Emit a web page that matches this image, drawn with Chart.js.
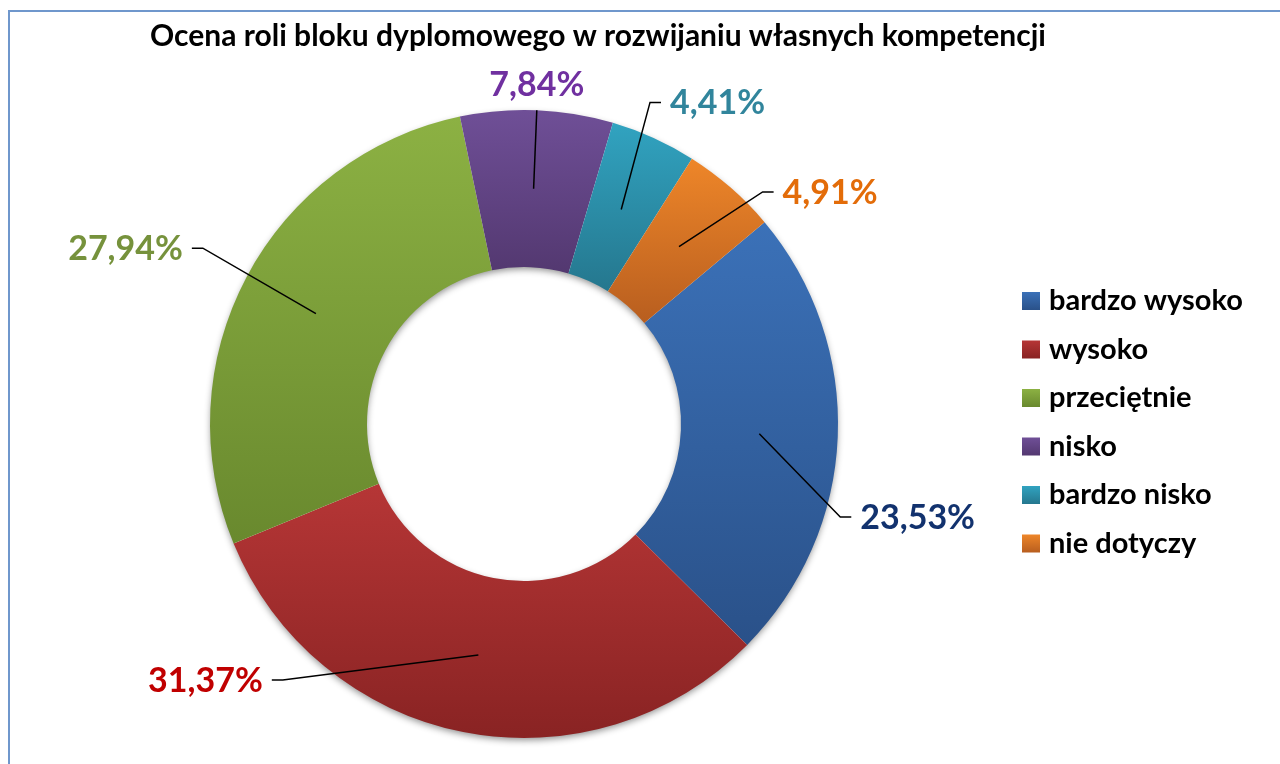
<!DOCTYPE html>
<html lang="pl">
<head>
<meta charset="utf-8">
<title>Ocena roli bloku dyplomowego</title>
<script src="https://cdn.jsdelivr.net/npm/chart.js@4.4.1/dist/chart.umd.min.js"></script>
<style>
  html, body { margin: 0; padding: 0; background: #fff; }
  canvas { display: block; }
</style>
</head>
<body>
<canvas id="donut" width="1280" height="764"></canvas>
<script>
// dane wykresu
const chartTitle = "Ocena roli bloku dyplomowego w rozwijaniu własnych kompetencji";
const categories = ["bardzo wysoko", "wysoko", "przeciętnie", "nisko", "bardzo nisko", "nie dotyczy"];
const percentValues = [23.53, 31.37, 27.94, 7.84, 4.41, 4.91];

// kolory (gradient góra -> dół) i kolory etykiet
const colorsTop = ["#3B71B8", "#B63636", "#8CB143", "#6F4F97", "#31A3C0", "#EE8629"];
const colorsBottom = ["#2A5189", "#892323", "#69892E", "#533870", "#25778E", "#B85E1F"];
const labelColors = ["#12326E", "#C00000", "#76923C", "#7030A0", "#31859C", "#E36C09"];

const FONT = "Lato, 'Open Sans', sans-serif";

// gdzie ma być załamanie linii odniesienia (kąt od góry zgodnie z zegarem, promień względem R)
const labelPlacement = [
  { deg: 106.4, r: 1.05, side: "right" },
  { deg: 223.3, r: 1.12, side: "left" },
  { deg: 298.7, r: 1.166, side: "left" },
  { deg: null, r: 1.0, side: "top" },
  { deg: 21.4, r: 1.10, side: "right" },
  { deg: 45.8, r: 1.06, side: "right" },
];

function formatPct(v) {
  return v.toFixed(2).replace(".", ",") + "%";
}

function sliceBounds(arc) {
  let minY = Infinity, maxY = -Infinity;
  const steps = 40;
  for (let k = 0; k <= steps; k++) {
    const a = arc.startAngle + (arc.endAngle - arc.startAngle) * k / steps;
    [arc.innerRadius, arc.outerRadius].forEach((r) => {
      const y = arc.y + r * Math.sin(a);
      minY = Math.min(minY, y);
      maxY = Math.max(maxY, y);
    });
  }
  return [minY, maxY];
}

const decor = {
  id: "decor",
  beforeDraw(chart) {
    const ctx = chart.ctx;
    ctx.save();
    // ramka
    ctx.strokeStyle = "#6F97CC";
    ctx.lineWidth = 2;
    ctx.beginPath();
    ctx.moveTo(9, chart.height);
    ctx.lineTo(9, 11);
    ctx.lineTo(chart.width, 11);
    ctx.stroke();
    // tytuł
    ctx.fillStyle = "#000";
    ctx.font = "bold 30px " + FONT;
    ctx.textAlign = "center";
    ctx.textBaseline = "alphabetic";
    ctx.fillText(chartTitle, 598, 46);
    ctx.restore();
  },
  beforeDatasetsDraw(chart) {
    const ctx = chart.ctx;
    const meta = chart.getDatasetMeta(0);
    const a0 = meta.data[0];
    const cx = a0.x, cy = a0.y, R = a0.outerRadius, r = a0.innerRadius;

    // cień pierścienia (na zewnątrz i w otworze)
    ctx.save();
    ctx.shadowColor = "rgba(0,0,0,0.45)";
    ctx.shadowBlur = 7;
    ctx.shadowOffsetX = 0;
    ctx.shadowOffsetY = 3;
    ctx.fillStyle = "#fff";
    ctx.beginPath();
    ctx.arc(cx, cy, R - 1, 0, Math.PI * 2);
    ctx.arc(cx, cy, r + 1, 0, Math.PI * 2, true);
    ctx.fill("evenodd");
    ctx.restore();

    // gradient dla każdego wycinka
    meta.data.forEach((arc, i) => {
      const [y1, y2] = sliceBounds(arc);
      const g = ctx.createLinearGradient(0, y1, 0, y2);
      g.addColorStop(0, colorsTop[i]);
      g.addColorStop(1, colorsBottom[i]);
      arc.options.backgroundColor = g;
    });
  },
  afterDatasetsDraw(chart) {
    const ctx = chart.ctx;
    const meta = chart.getDatasetMeta(0);
    ctx.save();
    meta.data.forEach((arc, i) => {
      const p = labelPlacement[i];
      const mid = (arc.startAngle + arc.endAngle) / 2;
      const rm = (arc.innerRadius + arc.outerRadius) / 2;
      const sx = arc.x + rm * Math.cos(mid);
      const sy = arc.y + rm * Math.sin(mid);
      const ang = p.deg === null ? mid : p.deg * Math.PI / 180 - Math.PI / 2;
      const ex = arc.x + p.r * arc.outerRadius * Math.cos(ang);
      const ey = arc.y + p.r * arc.outerRadius * Math.sin(ang);

      ctx.strokeStyle = "#000";
      ctx.lineWidth = 1.5;
      ctx.beginPath();
      ctx.moveTo(sx, sy);
      ctx.lineTo(ex, ey);
      if (p.side === "right") ctx.lineTo(ex + 11, ey);
      if (p.side === "left") ctx.lineTo(ex - 11, ey);
      ctx.stroke();

      ctx.fillStyle = labelColors[i];
      ctx.font = "bold 34px " + FONT;
      ctx.textBaseline = "alphabetic";
      const txt = formatPct(percentValues[i]);
      if (p.side === "right") {
        ctx.textAlign = "left";
        ctx.fillText(txt, ex + 20, ey + 12);
      } else if (p.side === "left") {
        ctx.textAlign = "right";
        ctx.fillText(txt, ex - 20, ey + 12);
      } else {
        ctx.textAlign = "center";
        ctx.fillText(txt, ex, ey - 14);
      }
    });
    ctx.restore();
  },
  afterDraw(chart) {
    // legenda
    const ctx = chart.ctx;
    ctx.save();
    categories.forEach((name, i) => {
      const yc = 301 + i * 48.5;
      const g = ctx.createLinearGradient(0, yc - 9, 0, yc + 9);
      g.addColorStop(0, colorsTop[i]);
      g.addColorStop(1, colorsBottom[i]);
      ctx.fillStyle = g;
      ctx.fillRect(1022, yc - 9, 18, 18);
      ctx.fillStyle = "#000";
      ctx.font = "bold 29px " + FONT;
      ctx.textAlign = "left";
      ctx.textBaseline = "alphabetic";
      ctx.fillText(name, 1049, yc + 9);
    });
    ctx.restore();
  },
};

const ctx = document.getElementById("donut").getContext("2d");
const donutChart = new Chart(ctx, {
  type: "doughnut",
  data: {
    labels: categories,
    datasets: [
      {
        data: percentValues,
        backgroundColor: colorsTop,
        borderWidth: 0,
      },
    ],
  },
  options: {
    responsive: false,
    animation: false,
    rotation: 50,
    cutout: "50%",
    layout: {
      padding: { left: 210, right: 442, top: 110, bottom: 26 },
    },
    plugins: {
      legend: { display: false },
      title: { display: false },
      tooltip: { enabled: false },
    },
  },
  plugins: [decor],
});
</script>
</body>
</html>
